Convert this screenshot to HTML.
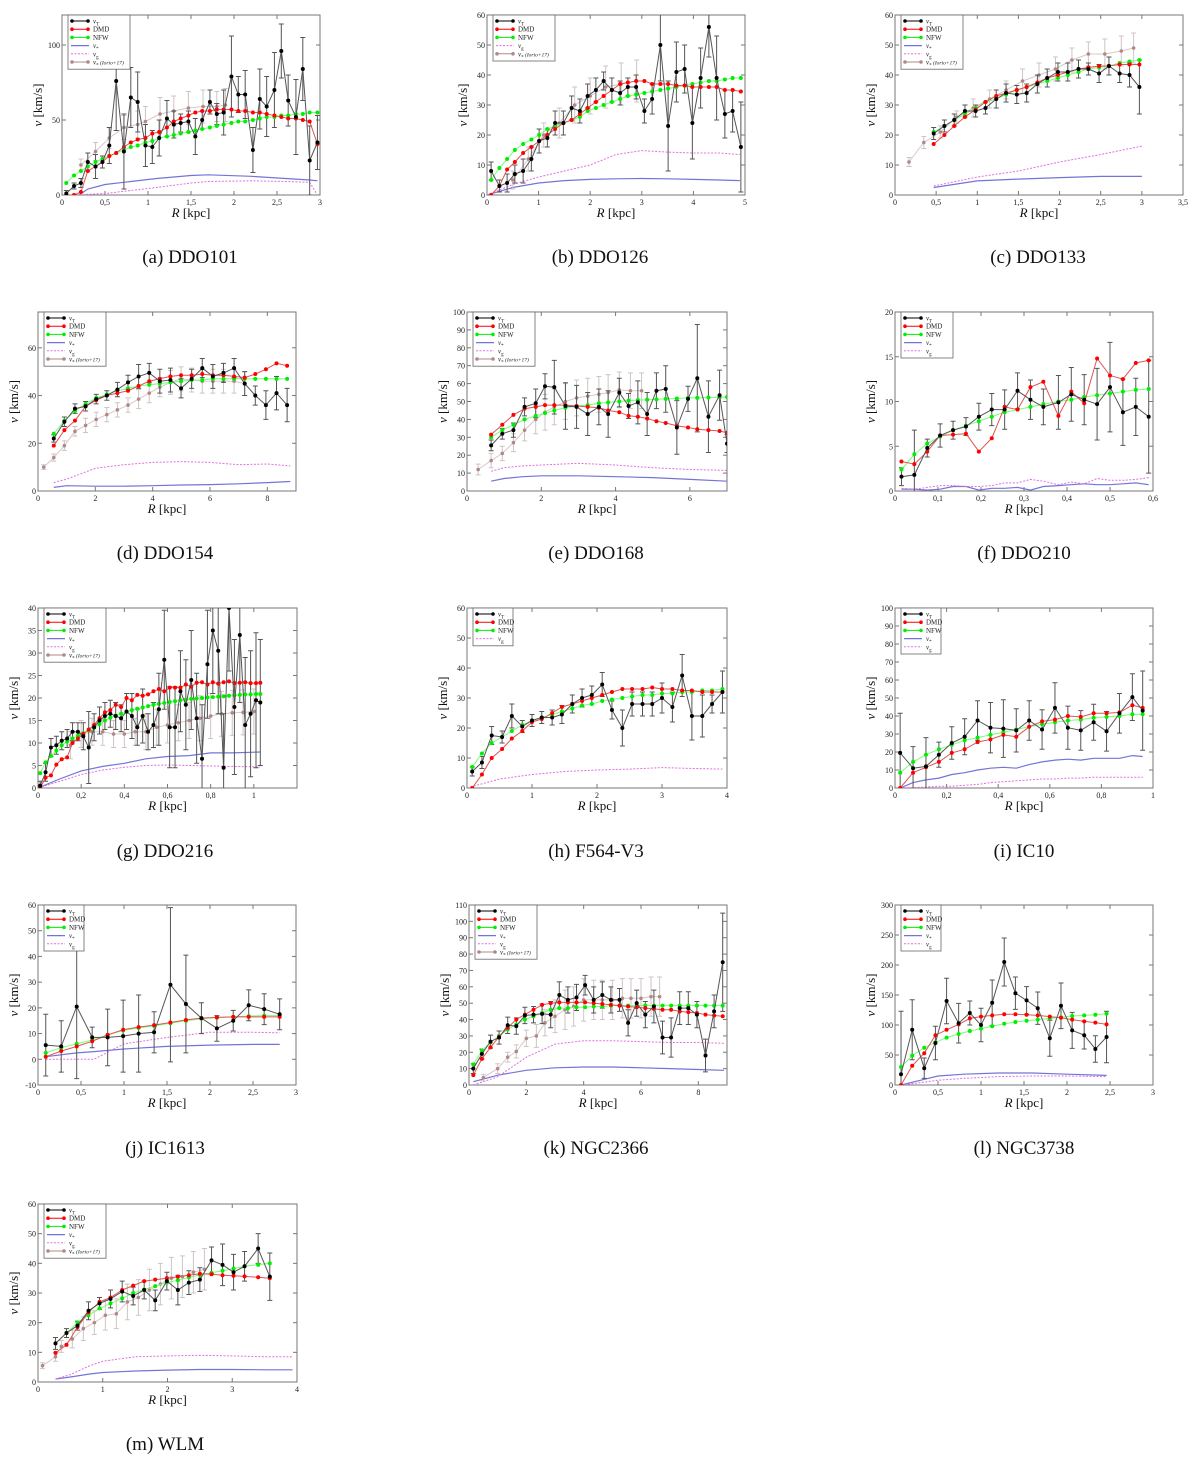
<!DOCTYPE html>
<html><head><meta charset="utf-8"><style>
body{margin:0;background:#fff;}
svg{display:block;font-family:"Liberation Serif",serif;}
</style></head><body>
<svg id="fig" width="1200" height="1461" viewBox="0 0 1200 1461"></svg>
<script>
// ---------- data ----------
// (a) DDO101
const A_R=[0.05,0.14,0.22,0.3,0.39,0.47,0.55,0.63,0.72,0.8,0.88,0.97,1.05,1.13,1.22,1.3,1.38,1.47,1.55,1.63,1.72,1.8,1.88,1.97,2.05,2.13,2.22,2.3,2.38,2.47,2.55,2.63,2.72,2.8,2.88,2.97];
const A_vT=[1,6,8,22,19,22,33,76,29,65,62,33,32,38,51,47,48,49,39,50,62,54,55,79,67,67,30,64,59,70,96,63,52,84,23,35];
const A_err=[2,2,3,6,8,4,12,33,25,20,20,14,11,12,12,9,6,7,12,6,8,7,15,27,12,16,15,20,20,25,18,17,25,21,23,18];
const A_DMD=[0,0,2,16,19,22,26,28,32,35,37,38,41,42,45,49,51,53,55,56,56,57,57,57,56,56,55,55,54,53,52,51,51,50,49,34];
const A_NFW=[8,13,16,19,22,24,26,28,30,32,33,35,36,38,39,40,41,42,43,44,45,46,47,48,49,49,50,51,52,52,53,53,54,54,55,55];
const A_bR=[0.2,0.3,0.5,0.8,1.1,1.5,1.7,2.2,2.6,2.88,2.97];
const A_star=[0,4,7,9,11,13,13.5,12.5,11,10,9.5];
const A_gas=[0,0.5,1,3,5,8,9,9.5,9,8.5,0];
const A_IR=[0.22,0.39,0.55,0.72,0.88,0.97,1.14,1.3,1.47,1.64,1.8,1.9];
const A_Iv=[20,29,38,45,47,49,54,56,58,59,59,60];
const A_Ie=[4,6,7,8,9,10,11,10,11,11,10,11];
// (b) DDO126
const B_R=[0.08,0.24,0.39,0.54,0.7,0.86,1.01,1.17,1.32,1.48,1.64,1.8,1.95,2.11,2.26,2.42,2.58,2.73,2.89,3.05,3.2,3.36,3.51,3.67,3.83,3.98,4.14,4.3,4.45,4.61,4.76,4.92];
const B_vT=[8,3,4,7,8,12,18,19,24,24,29,28,33,35,38,35,34,36,36,28,32,50,23,41,42,24,39,56,39,27,28,16];
const B_err=[3,2,3,3,4,4,4,3,4,4,4,4,4,4,3,4,4,3,4,4,5,12,15,10,8,12,10,10,14,8,7,15];
const B_DMD=[0,3,8.5,11,14,16,18,20,22,24,25,27,29,31,33,35,37,37.5,38,38,37,37,37,36.5,36.5,36,36,36,36,35,35,34.5];
const B_NFW=[5,9,12,15,17,18.5,20,22,23,24,25,26,28,29,30,31,32,33,33.5,34,34.5,35,35.5,36,36.5,37,37.5,38,38,38.5,39,39];
const B_bR=[0,0.5,1,1.5,2,2.5,3,3.5,4,4.5,4.9];
const B_star=[0,2.5,4,4.8,5.2,5.4,5.5,5.4,5.2,5,4.8];
const B_gas=[0,3.5,6,8,10,13.5,14.8,14.3,14,14,13.5];
const B_IR=[0.5,0.8,1.1,1.4,1.7,2.0,2.3,2.6,2.9];
const B_Iv=[5,12,20,24,30,33,36,37,38];
const B_Ie=[3,4,4,5,6,6,7,7,7];
// (c) DDO133
const C_R=[0.47,0.6,0.72,0.85,0.98,1.1,1.23,1.35,1.48,1.6,1.73,1.85,1.98,2.1,2.23,2.35,2.48,2.6,2.73,2.85,2.97];
const C_vT=[20.5,23,25,28,28,29,32,34,33.5,34,37,39,41,41,42,42,40.5,43,40.5,40,36];
const C_err=[2,2,2,2,2,2,3,3,3,3,3,3,3,3,3,2,3,3,3,4,9];
const C_DMD=[17,20,23,26,28.5,31,33,34,35,36,37.5,39,40,41,42,42.5,43,43,43.5,43.5,43.5];
const C_NFW=[21,23,25,27,29,31,32,33.5,35,36,37,38,39,40,41,42,42.5,43,44,44.5,45];
const C_bR=[0.47,1,1.5,2,2.5,3];
const C_star=[2.5,4.7,5.3,5.8,6.2,6.2];
const C_gas=[3,6,8,11,13.5,16.3];
const C_IR=[0.17,0.35,0.55,0.75,0.95,1.15,1.35,1.55,1.75,1.95,2.15,2.35,2.55,2.75,2.9];
const C_Iv=[11,17.5,21,26,29,32,35,38,40,42,45,47,47,48,49];
const C_Ie=[1.5,2,2,2,3,3,3,4,4,4,4,4,5,5,5];
// (d) DDO154
const D_R=[0.55,0.92,1.29,1.66,2.03,2.4,2.77,3.14,3.51,3.88,4.25,4.62,4.99,5.36,5.73,6.1,6.47,6.84,7.21,7.58,7.95,8.32,8.69];
const D_vT=[22,29,34.5,35.5,38.5,40,42.5,45.5,48,49.5,46,46.5,43,47,51.5,48,49.5,51.5,45,40,36,41,36];
const D_err=[1.5,2,2,2,2,2,3,3,5,4,5,5,4,4,4,5,4,4,5,4,6,7,7];
const D_DMD=[19,25.5,29.5,35.5,38,40,41,42,44,46,47,48,48.5,48.5,49,48.5,48.5,48,47.5,49,51,53.5,52.5];
const D_NFW=[24,29.5,33.5,36.5,39,40.5,42,43,44,44.5,45,45.5,46,46.5,46.5,47,47,47,47,47,47,47,47];
const D_bR=[0.55,1,2,3,4,5,6,7,8,8.8];
const D_star=[1.5,2.2,2,2,2.2,2.5,2.7,3,3.5,4];
const D_gas=[3.5,5,9.5,11,12,12.3,12,11,11.3,10.5];
const D_IR=[0.2,0.55,0.92,1.29,1.66,2.03,2.4,2.77,3.14,3.51,3.88,4.25,4.62,4.99,5.36,5.73,6.1,6.47,6.84,7.21];
const D_Iv=[10,14,19,25,27.5,30,32,34,36,38.5,41,43.5,45.5,47,46.5,46,46,46,46,45];
const D_Ie=[1,1.5,2,2,3,3,3,3,3,4,4,4,5,5,5,5,5,5,5,5];
// (e) DDO168
const E_R=[0.65,0.95,1.25,1.55,1.85,2.1,2.35,2.65,2.95,3.25,3.55,3.8,4.1,4.35,4.6,4.85,5.1,5.35,5.65,5.95,6.2,6.5,6.8,7.0];
const E_vT=[25.5,32,34,47,49,58.5,58,47.5,47,43,47,43,55,47.5,49.5,43,56,57,35.5,51.5,63,41.5,53.5,26.5];
const E_err=[3,3,4,5,8,7,15,13,12,12,10,13,8,7,12,12,10,13,15,7,30,20,14,5];
const E_DMD=[31.5,37,42.5,46,47,48,48,48,47.5,47,46.5,45,44,42,41.5,40.5,39,38,36.5,35.5,34.5,34,33.5,32.5];
const E_NFW=[30,34,37,40,42,43.5,45,46.5,47.5,48,49,49.5,50,50.5,50.8,51,51.2,51.5,51.7,52,52,52.2,52.4,52.5];
const E_bR=[0.65,1,1.5,2,3,4,5,6,7];
const E_star=[5.5,7,8,8.5,8.5,8,7.5,6.5,5.5];
const E_gas=[11,13,14,14.5,15.5,14.5,13,12,11.5];
const E_IR=[0.3,0.65,0.95,1.25,1.55,1.85,2.1,2.35,2.65,2.95,3.25,3.55,3.8,4.1,4.4,4.7];
const E_Iv=[12,17,21,27,34,40,44,47,50,52,53,54,55,56.5,56,56];
const E_Ie=[3,4,4,5,6,8,10,10,10,10,10,10,10,10,10,10];
// (f) DDO210
const F_R=[0.015,0.045,0.075,0.105,0.135,0.165,0.195,0.225,0.255,0.285,0.315,0.345,0.38,0.41,0.44,0.47,0.5,0.53,0.56,0.59];
const F_vT=[1.6,1.8,4.8,6.2,6.8,7.2,8.3,9.1,9.1,11.2,10.2,9.4,9.9,10.8,10.2,9.7,11.6,8.8,9.4,8.3];
const F_err=[1,5,1,1.3,1,1,1.5,1.8,2.2,2,2.2,2,3,3,2.8,4,5,3.7,3.2,6.3];
const F_DMD=[3.3,3,4.4,6.2,6.3,6.4,4.4,5.9,9.4,9.1,11.6,12.2,8.4,11.1,9.8,14.8,12.9,12.5,14.3,14.6];
const F_NFW=[2.4,4.1,5.3,6.1,6.8,7.3,7.8,8.3,8.8,9.1,9.4,9.7,10,10.2,10.5,10.7,10.9,11.1,11.3,11.4];
const F_bR=F_R;
const F_star=[0.2,0.2,0.1,0.2,0.5,0.5,0.1,0.3,0.3,0.4,0.1,0.5,0.6,0.7,0.8,0.7,0.7,0.8,0.9,0.7];
const F_gas=[0.3,0.2,0.4,0.6,0.6,0.5,0.5,0.6,0.9,0.9,1.3,1.1,0.7,1,0.8,1.4,1.2,1.2,1.3,1.5];
// (g) DDO216
const G_R=[0.01,0.035,0.06,0.085,0.11,0.135,0.16,0.185,0.21,0.235,0.26,0.285,0.31,0.335,0.36,0.385,0.41,0.435,0.46,0.485,0.51,0.535,0.56,0.585,0.61,0.635,0.66,0.685,0.71,0.735,0.76,0.785,0.81,0.835,0.86,0.885,0.91,0.935,0.96,0.985,1.01,1.03];
const G_vT=[0.5,3.5,9,9.5,10.5,11,12.5,12.5,11.5,9,13.5,15,16,16.5,16,15.5,17,16,13.5,16,12.5,14,17.5,28.5,13.5,13.5,21.5,18.5,24,15.5,6.5,27.5,35,30.5,4.5,40,18,34,14,16.5,19.5,19];
const G_err=[1,2,2,2,2,2,2,2,3,8,3,3,3,3,3,3,4,5,4,6,4,5,8,11,9,9,9,10,11,10,12,12,14,14,12,14,15,15,15,14,15,14];
const G_DMD=[0,2.3,2.8,5.2,6.4,6.8,10,11,12,13,14,15.5,16.8,17.3,18.5,18,20,19.5,20.7,20.5,20.8,21.5,22,21.5,22.3,22.3,22.3,23,22.5,23.4,23.5,23,23.5,23.2,23.5,23.7,23.3,23.4,23.5,23.3,23.3,23.4];
const G_NFW=[3.3,5.7,7.1,8.3,9.5,10.3,11,11.6,12.2,12.8,13.4,14.2,15,15.6,16.1,16.5,16.9,17.3,17.6,17.9,18.2,18.5,18.7,18.9,19.1,19.3,19.5,19.6,19.8,19.9,20,20.1,20.2,20.3,20.4,20.5,20.6,20.7,20.8,20.8,20.9,20.9];
const G_bR=[0,0.1,0.2,0.3,0.4,0.5,0.6,0.7,0.8,0.9,1.03];
const G_star=[0,2,3.8,4.8,5.5,6.5,7,7.2,7.8,7.8,8];
const G_gas=[0,1.5,3,4,4.6,5,5.1,5,4.9,4.8,4.7];
const G_IR=[0.15,0.2,0.25,0.3,0.35,0.4,0.45,0.5,0.55,0.6,0.65,0.7,0.75,0.8,0.85,0.9,0.95,1.0];
const G_Iv=[9.5,12,12.5,12.5,12,12,12.5,12.5,13.5,14,14.5,15,15.5,16,16.5,16.7,16.8,17];
const G_Ie=[3,3,3,3,3,3,3,4,4,4,4,4,5,5,5,5,5,5];
// (h) F564-V3
const H_R=[0.08,0.23,0.38,0.54,0.69,0.85,1.0,1.15,1.31,1.46,1.62,1.77,1.92,2.08,2.23,2.39,2.54,2.7,2.85,3.0,3.16,3.31,3.46,3.62,3.77,3.93];
const H_vT=[5.5,8.5,17.5,17,24,20.5,22.5,23.5,23.5,24.5,28,30,31,34.5,26,20,28,28,28,30,27,37.5,24,24,28,32];
const H_err=[1.5,2,3,2,4,2,2,2,2.5,3,3,3,3,4,3,6,4,4,4,5,5,7,8,7,3,7];
const H_DMD=[0,4.5,10,13,16.5,19,22,23,25,27,28,29,30,31,32,33,33,33,33.5,33,33,32.5,32.5,32,32,32];
const H_NFW=[7,11.5,15,17,19,21,22.5,23.5,24.5,25.5,26.5,27.5,28,29,29.5,30,30.5,31,31,31.5,31.5,32,32,32.5,32.5,33];
const H_bR=[0,0.5,1,1.5,2,2.5,3,3.5,3.93];
const H_gas=[0,3,4.5,5.5,6,6.3,6.8,6.5,6.3];
// (i) IC10
const I_R=[0.02,0.07,0.12,0.17,0.22,0.27,0.32,0.37,0.42,0.47,0.52,0.57,0.62,0.67,0.72,0.77,0.82,0.87,0.92,0.96];
const I_vT=[19.5,11,12,18.5,25,28.5,37.5,33.5,33,32,37.5,32.5,44.5,33.5,32,36.5,31.5,41.5,50.5,43];
const I_err=[22,12,16,7,9,10,11,14,16,12,11,11,14,12,11,10,11,11,13,22];
const I_DMD=[0,8.5,11.5,14.5,19.5,21.5,25.5,27,29.5,28.5,34,37,38,40,39.5,41.5,41.5,42,46,44.5];
const I_NFW=[8.5,14.5,18.5,21.5,24,26.5,28,29.5,31,32.5,34,35.5,36.5,37.5,38,39,39.5,40,41,41];
const I_bR=I_R;
const I_star=[0,3,4.5,5.5,7.5,8.5,10,11,11.5,11,13,14.5,15.5,16,15.5,16.5,16.5,16.5,18,17.5];
const I_gas=[0,0.3,0.5,1,1,1.5,2,3,3.5,4,4.5,5,5,5.5,5.5,6,6,6,6,6];
// (j) IC1613
const J_R=[0.09,0.27,0.45,0.63,0.81,0.99,1.17,1.35,1.54,1.72,1.9,2.08,2.27,2.45,2.63,2.81];
const J_vT=[5.5,5,20.5,8.5,8.5,9,10,10.5,29,21.5,16,12,15,21,19.5,17.5];
const J_err=[12,10,28,4,11,14,15,8,30,19,6,5,4,6,6,6];
const J_DMD=[1,3.2,5,7,9.5,11.5,12.5,13.3,14.3,15.3,16,16.3,16.5,16.5,16.5,16.5];
const J_NFW=[2.5,4.5,6,7.5,9.5,11.2,12.2,13,14,15,15.8,16.2,16.5,16.8,17,17];
const J_bR=[0.09,0.45,0.65,1.0,1.5,2.0,2.5,2.81];
const J_star=[1,2.5,3,4,5,5.5,5.8,5.8];
const J_gas=[0,0,0,6,8.5,10.5,10.5,10.3];
// (k) NGC2366
const K_R=[0.15,0.45,0.75,1.05,1.35,1.65,1.95,2.25,2.55,2.85,3.15,3.45,3.75,4.05,4.35,4.65,4.95,5.25,5.55,5.85,6.15,6.45,6.75,7.05,7.35,7.65,7.95,8.25,8.55,8.85];
const K_vT=[10,19,26.5,29,36.5,36,42.5,43,43.5,43,55,52,53.5,61,52,55,52,52,38,50,43,48,29,29,47,47,43,18,45,75];
const K_err=[3,3,4,4,5,5,5,5,6,8,8,8,8,6,8,8,8,7,8,8,8,10,10,12,10,10,8,10,10,30];
const K_DMD=[6,16,23,29.5,35,40,43,46,49,50,50.5,50.5,50.5,50.5,50,49.5,49,48.5,48,47.5,47,46.5,46,46,45,44.5,44,43,42.5,42];
const K_NFW=[12.5,21,26,30,34,37,40,42,44,46,47,47,47.5,47.5,48,48,48.5,48.5,48.5,48.5,48.5,48.5,48.5,48.5,48.5,48.5,48.5,48.5,48.5,48.5];
const K_bR=[0.15,1,2,3,4,5,6,7,8,8.9];
const K_star=[2,6,9,10.5,11,11,10.5,10,9.5,9];
const K_gas=[0,5,17,25,27,27,26.5,26,26,25.5];
const K_IR=[0.5,1.0,1.35,1.65,2.0,2.35,2.65,3.0,3.35,3.65,4.0,4.35,4.65,5.0,5.35,5.65,6.0,6.35,6.65];
const K_Iv=[4.5,10,17,20.5,28.5,30,38,42,46,48,52,52,52,52,53,53,53,54,54];
const K_Ie=[2,3,3,4,5,7,8,10,12,12,13,12,12,12,12,12,12,12,12];
// (l) NGC3738
const L_R=[0.07,0.2,0.34,0.47,0.6,0.74,0.87,1.0,1.13,1.27,1.4,1.53,1.66,1.8,1.93,2.06,2.2,2.33,2.46];
const L_vT=[18,92,28,70,140,103,120,100,137,205,153,141,128,78,132,91,83,60,80];
const L_err=[105,50,17,28,38,33,20,28,38,40,27,23,27,30,38,30,23,22,43];
const L_DMD=[0,32,53,83,92,101,111,114,116,118,118,117,116,114,112,109,106,104,101];
const L_NFW=[30,49,62,71,79,85,90,94,98,102,105,107,109,111,113,115,116,117,119];
const L_bR=[0.07,0.3,0.5,0.8,1.2,1.6,2,2.46];
const L_star=[0,8,15,18,20,20,18,16];
const L_gas=[0,4,8,11,14,15,15,14];
// (m) WLM
const M_R=[0.27,0.44,0.61,0.78,0.95,1.12,1.3,1.47,1.64,1.81,1.99,2.16,2.33,2.5,2.68,2.85,3.02,3.19,3.4,3.58];
const M_vT=[13,16.5,19,24,26.5,28,30.5,29,31,27.5,34,31,33.5,34.5,41,39.5,37,39,45,35.5];
const M_err=[2,1.5,1.5,3,2,3,3.5,3,3,3.5,3,5,4,4,4.5,7,6,5,5,8];
const M_DMD=[9.8,12.5,18.5,23.5,27,28.5,31,32.5,34,34.5,35,35.5,36,36.5,36.3,36,35.8,35.6,35.3,35];
const M_NFW=[13,16.5,20,22.5,24.8,26.5,28.2,30,31.2,32.3,33.5,34.3,35.3,36.1,36.8,37.5,38.2,39,39.5,40];
const M_bR=[0.27,0.5,0.8,1,1.5,2,2.5,3,3.5,3.93];
const M_star=[1,1.7,2.7,3.2,3.7,4,4.2,4.2,4.1,4.1];
const M_gas=[1,2.5,5.5,7,8.5,8.8,9,8.8,8.5,8.5];
const M_IR=[0.07,0.27,0.36,0.53,0.7,0.87,1.04,1.21,1.38,1.55,1.72,1.89,2.06,2.23,2.4,2.57];
const M_Iv=[5.5,8.5,12,14.5,18,20,22.5,23,27,28.5,31,33,35,35.5,37,38];
const M_Ie=[1,1.5,2,3,4,4,5,5,6,6,7,7,7,7,7,7];

const A_xt=[0,0.5,1,1.5,2,2.5,3], A_yt=[0,50,100];
const B_xt=[0,1,2,3,4,5], B_yt=[0,10,20,30,40,50,60];
const C_xt=[0,0.5,1,1.5,2,2.5,3,3.5], C_yt=[0,10,20,30,40,50,60];
const D_xt=[0,2,4,6,8], D_yt=[0,20,40,60];
const E_xt=[0,2,4,6], E_yt=[0,10,20,30,40,50,60,70,80,90,100];
const F_xt=[0,0.1,0.2,0.3,0.4,0.5,0.6], F_yt=[0,5,10,15,20];
const G_xt=[0,0.2,0.4,0.6,0.8,1], G_yt=[0,5,10,15,20,25,30,35,40];
const H_xt=[0,1,2,3,4], H_yt=[0,10,20,30,40,50,60];
const I_xt=[0,0.2,0.4,0.6,0.8,1], I_yt=[0,10,20,30,40,50,60,70,80,90,100];
const J_xt=[0,0.5,1,1.5,2,2.5,3], J_yt=[-10,0,10,20,30,40,50,60];
const K_xt=[0,2,4,6,8], K_yt=[0,10,20,30,40,50,60,70,80,90,100,110];
const L_xt=[0,0.5,1,1.5,2,2.5,3], L_yt=[0,50,100,150,200,250,300];
const M_xt=[0,1,2,3,4], M_yt=[0,10,20,30,40,50,60];

// ---------- drawing ----------
const svg=document.getElementById('fig');
const NS='http://www.w3.org/2000/svg';
function el(tag,attrs,parent){const e=document.createElementNS(NS,tag);for(const k in attrs)e.setAttribute(k,attrs[k]);(parent||svg).appendChild(e);return e;}
function fmt(v){return String(Math.round(v*100)/100).replace('.',',');}
const COL={T:'#000',DMD:'#f00',NFW:'#0e0',s:'#7474d8',g:'#e070e0',I:'#b08888'};

function panel(P){
  const g=el('g',{});
  
  
  const W=P.x1-P.x0,H=P.y1-P.y0;
  const sx=v=>P.x0+(v-P.xr[0])/(P.xr[1]-P.xr[0])*W;
  const sy=v=>P.y1-(v-P.yr[0])/(P.yr[1]-P.yr[0])*H;
  const cid='clip-'+P.id;
  const cp=el('clipPath',{id:cid},g);el('rect',{x:P.x0,y:P.y0,width:W,height:H},cp);
  const frame=el('rect',{x:P.x0,y:P.y0,width:W,height:H,fill:'none',stroke:'#777','stroke-width':1},g);
  
  
  // ticks
  P.xt.forEach(t=>{const x=sx(t);
    el('line',{x1:x,y1:P.y1,x2:x,y2:P.y1-4,stroke:'#777'},g);el('line',{x1:x,y1:P.y0,x2:x,y2:P.y0+4,stroke:'#777'},g);
    const tx=el('text',{x:x,y:P.y1+10,'font-size':8,'text-anchor':'middle',fill:'#222'},g);tx.textContent=fmt(t);
    
    });
  P.yt.forEach(t=>{const y=sy(t);
    el('line',{x1:P.x0,y1:y,x2:P.x0+4,y2:y,stroke:'#777'},g);el('line',{x1:P.x1,y1:y,x2:P.x1-4,y2:y,stroke:'#777'},g);
    const ty=el('text',{x:P.x0-2,y:y+3,'font-size':8,'text-anchor':'end',fill:'#222'},g);ty.textContent=fmt(t);
    
    });
  // axis titles
  const xl=el('text',{x:(P.x0+P.x1)/2,y:P.y1+22,'font-size':13,'text-anchor':'middle',fill:'#111'},g);
  xl.innerHTML='<tspan font-style="italic">R</tspan> [kpc]';
  
  
  const yl=el('text',{x:0,y:0,'font-size':13,'text-anchor':'middle',fill:'#111',transform:`translate(${P.x0-20},${(P.y0+P.y1)/2}) rotate(-90)`},g);
  yl.innerHTML='<tspan font-style="italic">v</tspan> [km/s]';
  
  
  const pg=el('g',{'clip-path':`url(#${cid})`},g);
  const line=(xs,ys,c,w,dash,name)=>{const d=xs.map((x,i)=>(i?'L':'M')+sx(x).toFixed(1)+' '+sy(ys[i]).toFixed(1)).join('');
    const p=el('path',{d:d,fill:'none',stroke:c,'stroke-width':w,'stroke-dasharray':dash||'none'},pg);
    
    };
  const dots=(xs,ys,c,r,name)=>xs.forEach((x,i)=>{const d=el('circle',{cx:sx(x),cy:sy(ys[i]),r:r,fill:c},pg);
    
    });
  const errs=(xs,ys,es,c,name)=>xs.forEach((x,i)=>{const X=sx(x),a=sy(ys[i]-es[i]),b=sy(ys[i]+es[i]);
    const e=el('path',{d:`M${X} ${a}L${X} ${b}M${X-2.5} ${a}L${X+2.5} ${a}M${X-2.5} ${b}L${X+2.5} ${b}`,stroke:c,'stroke-width':1,fill:'none'},pg);
    
    });
  if(P.star)line(P.bR,P.star,COL.s,1.2,null,'stellar-curve');
  if(P.gas)line(P.bR,P.gas,COL.g,1,'2,1.5','gas-curve');
  if(P.IR){errs(P.IR,P.Iv,P.Ie,'#cfc4c4','iorio-error-bar');line(P.IR,P.Iv,'#d8c8c8',1,null,'iorio-curve');dots(P.IR,P.Iv,COL.I,1.8,'iorio-point');}
  errs(P.R,P.vT,P.err,'#555','vT-error-bar');
  line(P.R,P.NFW,'#7f7',1,null,'nfw-curve');dots(P.R,P.NFW,COL.NFW,2,'nfw-point');
  line(P.R,P.DMD,'#d55',1,null,'dmd-curve');dots(P.R,P.DMD,COL.DMD,2,'dmd-point');
  line(P.R,P.vT,'#555',1,null,'vT-curve');dots(P.R,P.vT,COL.T,2,'vT-point');
  // legend
  const lx=P.x0+6,ly=P.y0,lh=8.2;
  const lg=el('g',{},g);
  
  
  el('rect',{x:lx,y:ly,width:P.lw||62,height:P.leg.length*lh+5,fill:'#fff',stroke:'#666','stroke-width':0.8},lg);
  P.leg.forEach((k,i)=>{const y=ly+6+i*lh,x=lx+3;
    const eg=el('g',{},lg);
    
    
    if(k=='s')el('line',{x1:x,y1:y,x2:x+18,y2:y,stroke:COL.s,'stroke-width':1.2},eg);
    else if(k=='g')el('line',{x1:x,y1:y,x2:x+18,y2:y,stroke:COL.g,'stroke-width':1,'stroke-dasharray':'2,1.5'},eg);
    else{el('line',{x1:x,y1:y,x2:x+18,y2:y,stroke:COL[k],'stroke-width':1},eg);el('circle',{cx:x+1,cy:y,r:1.8,fill:COL[k]},eg);el('circle',{cx:x+17,cy:y,r:1.8,fill:COL[k]},eg);}
    const t=el('text',{x:x+22,y:y+2.5,'font-size':7,fill:'#222'},eg);
    t.innerHTML={T:'<tspan font-style="italic">v</tspan><tspan font-size="5" dy="2">T</tspan>',DMD:'DMD',NFW:'NFW',s:'<tspan font-style="italic">v</tspan><tspan font-size="5" dy="2">*</tspan>',g:'<tspan font-style="italic">v</tspan><tspan font-size="5" dy="2">g</tspan>',I:'<tspan font-style="italic">v</tspan><tspan font-size="5" dy="2">*</tspan><tspan font-size="5.5" font-style="italic" dy="-2"> (Iorio+17)</tspan>'}[k];});
  // caption
  const cap=el('text',{x:P.cx,y:P.cy,'font-size':19,'text-anchor':'middle',fill:'#111'},g);
  cap.textContent=P.cap;
  
  
}
const L6=['T','DMD','NFW','s','g','I'],L5=['T','DMD','NFW','s','g'];
const panels=[
 {id:'a',cap:'(a) DDO101',x0:62,x1:320,y0:15,y1:195,cx:190,cy:263,xr:[0,3],yr:[0,120],xt:A_xt,yt:A_yt,R:A_R,vT:A_vT,err:A_err,DMD:A_DMD,NFW:A_NFW,bR:A_bR,star:A_star,gas:A_gas,IR:A_IR,Iv:A_Iv,Ie:A_Ie,leg:L6},
 {id:'b',cap:'(b) DDO126',x0:487,x1:745,y0:15,y1:195,cx:600,cy:263,xr:[0,5],yr:[0,60],xt:B_xt,yt:B_yt,R:B_R,vT:B_vT,err:B_err,DMD:B_DMD,NFW:B_NFW,bR:B_bR,star:B_star,gas:B_gas,IR:B_IR,Iv:B_Iv,Ie:B_Ie,leg:['T','DMD','NFW','g','I']},
 {id:'c',cap:'(c) DDO133',x0:895,x1:1183,y0:15,y1:195,cx:1038,cy:263,xr:[0,3.5],yr:[0,60],xt:C_xt,yt:C_yt,R:C_R,vT:C_vT,err:C_err,DMD:C_DMD,NFW:C_NFW,bR:C_bR,star:C_star,gas:C_gas,IR:C_IR,Iv:C_Iv,Ie:C_Ie,leg:L6},
 {id:'d',cap:'(d) DDO154',x0:38,x1:296,y0:312,y1:491,cx:165,cy:559,xr:[0,9],yr:[0,75],xt:D_xt,yt:D_yt,R:D_R,vT:D_vT,err:D_err,DMD:D_DMD,NFW:D_NFW,bR:D_bR,star:D_star,gas:D_gas,IR:D_IR,Iv:D_Iv,Ie:D_Ie,leg:L6},
 {id:'e',cap:'(e) DDO168',x0:467,x1:727,y0:312,y1:491,cx:596,cy:559,xr:[0,7],yr:[0,100],xt:E_xt,yt:E_yt,R:E_R,vT:E_vT,err:E_err,DMD:E_DMD,NFW:E_NFW,bR:E_bR,star:E_star,gas:E_gas,IR:E_IR,Iv:E_Iv,Ie:E_Ie,leg:L6},
 {id:'f',cap:'(f) DDO210',x0:895,x1:1153,y0:312,y1:491,cx:1024,cy:559,xr:[0,0.6],yr:[0,20],xt:F_xt,yt:F_yt,R:F_R,vT:F_vT,err:F_err,DMD:F_DMD,NFW:F_NFW,bR:F_bR,star:F_star,gas:F_gas,leg:L5,lw:52},
 {id:'g',cap:'(g) DDO216',x0:38,x1:297,y0:608,y1:788,cx:165,cy:857,xr:[0,1.2],yr:[0,40],xt:G_xt,yt:G_yt,R:G_R,vT:G_vT,err:G_err,DMD:G_DMD,NFW:G_NFW,bR:G_bR,star:G_star,gas:G_gas,IR:G_IR,Iv:G_Iv,Ie:G_Ie,leg:L6},
 {id:'h',cap:'(h) F564-V3',x0:467,x1:727,y0:608,y1:788,cx:596,cy:857,xr:[0,4],yr:[0,60],xt:H_xt,yt:H_yt,R:H_R,vT:H_vT,err:H_err,DMD:H_DMD,NFW:H_NFW,bR:H_bR,gas:H_gas,leg:['T','DMD','NFW','g'],lw:40},
 {id:'i',cap:'(i) IC10',x0:895,x1:1153,y0:608,y1:788,cx:1024,cy:857,xr:[0,1],yr:[0,100],xt:I_xt,yt:I_yt,R:I_R,vT:I_vT,err:I_err,DMD:I_DMD,NFW:I_NFW,bR:I_bR,star:I_star,gas:I_gas,leg:L5,lw:40},
 {id:'j',cap:'(j) IC1613',x0:38,x1:296,y0:905,y1:1085,cx:165,cy:1154,xr:[0,3],yr:[-10,60],xt:J_xt,yt:J_yt,R:J_R,vT:J_vT,err:J_err,DMD:J_DMD,NFW:J_NFW,bR:J_bR,star:J_star,gas:J_gas,leg:L5,lw:40},
 {id:'k',cap:'(k) NGC2366',x0:469,x1:727,y0:905,y1:1085,cx:596,cy:1154,xr:[0,9],yr:[0,110],xt:K_xt,yt:K_yt,R:K_R,vT:K_vT,err:K_err,DMD:K_DMD,NFW:K_NFW,bR:K_bR,star:K_star,gas:K_gas,IR:K_IR,Iv:K_Iv,Ie:K_Ie,leg:L6},
 {id:'l',cap:'(l) NGC3738',x0:895,x1:1153,y0:905,y1:1085,cx:1024,cy:1154,xr:[0,3],yr:[0,300],xt:L_xt,yt:L_yt,R:L_R,vT:L_vT,err:L_err,DMD:L_DMD,NFW:L_NFW,bR:L_bR,star:L_star,gas:L_gas,leg:L5,lw:40},
 {id:'m',cap:'(m) WLM',x0:38,x1:297,y0:1204,y1:1382,cx:165,cy:1450,xr:[0,4],yr:[0,60],xt:M_xt,yt:M_yt,R:M_R,vT:M_vT,err:M_err,DMD:M_DMD,NFW:M_NFW,bR:M_bR,star:M_star,gas:M_gas,IR:M_IR,Iv:M_Iv,Ie:M_Ie,leg:L6}
];
panels.forEach(panel);
</script>
</body></html>
